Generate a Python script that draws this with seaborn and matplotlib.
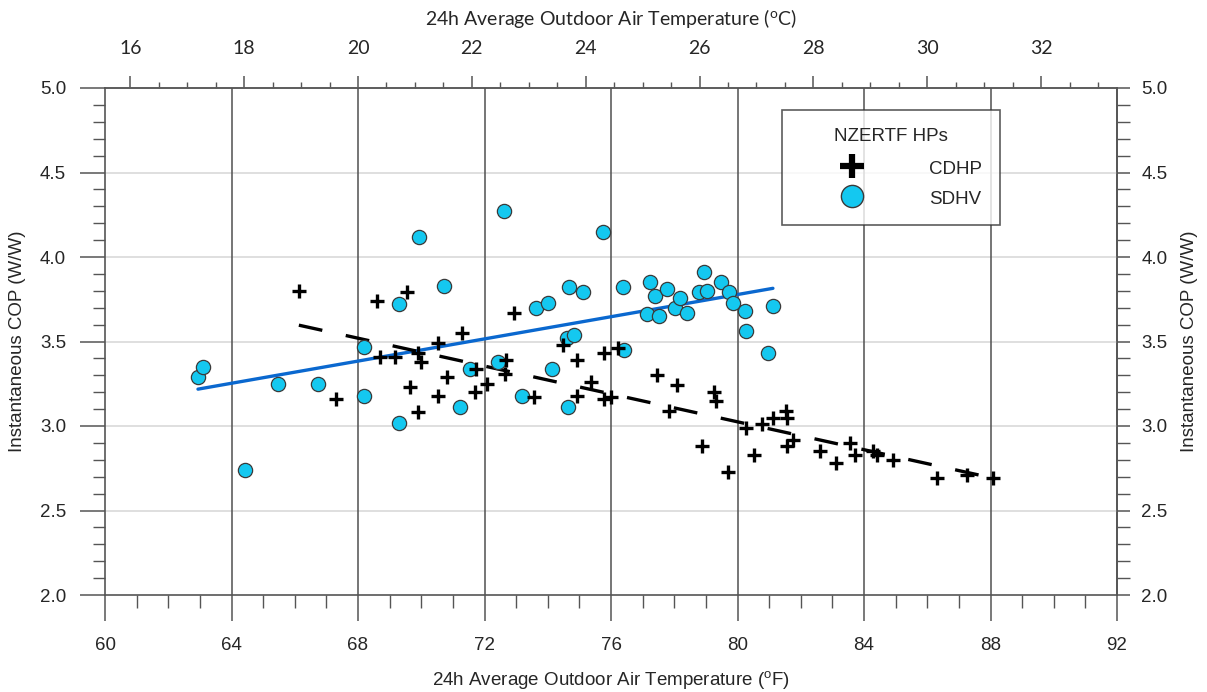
import numpy as np
import pandas as pd
import seaborn as sns
import matplotlib
matplotlib.use("Agg")
import matplotlib.pyplot as plt
from matplotlib.lines import Line2D
from matplotlib.ticker import MultipleLocator

# ---------------- data ----------------
cdhp_temp_f = [66.13, 67.30, 68.60, 69.55, 68.70, 69.17, 69.90, 69.99, 69.64, 69.90,
               70.53, 71.29, 70.81, 70.53, 71.73, 71.70, 72.08, 72.68, 72.65, 72.93,
               73.57, 74.48, 74.92, 74.92, 75.37, 75.78, 75.78, 76.00, 76.22, 77.45,
               78.09, 77.83, 79.26, 79.32, 78.88, 79.70, 80.27, 80.77, 81.12, 81.53,
               81.57, 80.52, 81.57, 81.75, 82.61, 83.11, 83.56, 83.72, 84.28, 84.41,
               84.92, 86.31, 87.26, 88.08]
cdhp_cop = [3.80, 3.16, 3.74, 3.79, 3.41, 3.41, 3.43, 3.38, 3.23, 3.08,
            3.49, 3.55, 3.29, 3.18, 3.34, 3.20, 3.25, 3.39, 3.31, 3.67,
            3.17, 3.48, 3.39, 3.18, 3.26, 3.43, 3.16, 3.17, 3.46, 3.30,
            3.24, 3.09, 3.20, 3.15, 2.88, 2.73, 2.99, 3.01, 3.05, 3.09,
            3.05, 2.83, 2.88, 2.92, 2.85, 2.78, 2.90, 2.83, 2.85, 2.83,
            2.80, 2.69, 2.71, 2.69]

sdhv_temp_f = [62.94, 63.10, 64.43, 65.47, 66.73, 68.19, 68.19, 69.30, 69.30, 69.93,
               70.72, 71.23, 71.54, 72.43, 72.62, 73.19, 73.63, 74.01, 74.13, 74.64,
               74.61, 74.83, 74.67, 75.11, 75.75, 76.38, 76.41, 77.23, 77.39, 77.77,
               77.14, 77.52, 78.02, 78.18, 78.40, 78.78, 78.94, 79.04, 79.48, 79.73,
               79.86, 80.24, 80.27, 81.12, 80.96]
sdhv_cop = [3.29, 3.35, 2.74, 3.25, 3.25, 3.47, 3.18, 3.72, 3.02, 4.12,
            3.83, 3.11, 3.34, 3.38, 4.27, 3.18, 3.70, 3.73, 3.34, 3.11,
            3.52, 3.54, 3.82, 3.79, 4.15, 3.82, 3.45, 3.85, 3.77, 3.81,
            3.66, 3.65, 3.70, 3.76, 3.67, 3.79, 3.91, 3.80, 3.85, 3.79,
            3.73, 3.68, 3.56, 3.71, 3.43]

f_ticks = [60, 64, 68, 72, 76, 80, 84, 88, 92]
c_ticks = [16, 18, 20, 22, 24, 26, 28, 30, 32]
cop_ticks = [2.0, 2.5, 3.0, 3.5, 4.0, 4.5, 5.0]
series_names = ["CDHP", "SDHV"]
legend_title = "NZERTF HPs"

df_c = pd.DataFrame({"t": cdhp_temp_f, "cop": cdhp_cop})
df_s = pd.DataFrame({"t": sdhv_temp_f, "cop": sdhv_cop})

# ---------------- style ----------------
sns.set_theme(style="white")
plt.rcParams["font.family"] = ["Liberation Sans", "DejaVu Sans"]
plt.rcParams["mathtext.default"] = "regular"

CYAN = "#14c8f0"
BLUE = "#0a68cf"
GRID_DARK = "#505050"
GRID_LIGHT = "#dcdcdc"
TICK_FS = 13.5

fig = plt.figure(figsize=(12.07, 6.92), dpi=100)
ax = fig.add_axes([105 / 1207, 1 - 595 / 692, 1012 / 1207, 507 / 692])

# regression lines
sns.regplot(data=df_s, x="t", y="cop", scatter=False, ci=None, truncate=True, ax=ax,
            line_kws=dict(color=BLUE, lw=2.4, zorder=3))
sns.regplot(data=df_c, x="t", y="cop", scatter=False, ci=None, truncate=True, ax=ax,
            line_kws=dict(color="black", lw=2.4, dashes=(7.2, 7.2), zorder=3))

# scatter points
sns.scatterplot(data=df_s, x="t", y="cop", ax=ax, marker="o", s=105, color=CYAN,
                edgecolor="#3a3a3a", linewidth=0.9, zorder=4, legend=False)
sns.scatterplot(data=df_c, x="t", y="cop", ax=ax, marker="+", s=115, color="black",
                linewidth=2.4, zorder=5, legend=False)

ax.set_xlim(60, 92)
ax.set_ylim(2.0, 5.0)
ax.set_xticks(f_ticks)
ax.set_yticks(cop_ticks)
ax.set_yticklabels([f"{v:.1f}" for v in cop_ticks])
ax.xaxis.set_minor_locator(MultipleLocator(1))
ax.yaxis.set_minor_locator(MultipleLocator(0.1))

ax.grid(False)
for v in f_ticks[1:-1]:
    ax.axvline(v, color=GRID_DARK, lw=1.1, zorder=1)
for v in cop_ticks[1:-1]:
    ax.axhline(v, color=GRID_LIGHT, lw=1.3, zorder=0.5)

for s in ax.spines.values():
    s.set_color("#555555")
    s.set_linewidth(1.2)
    s.set_visible(True)

ax.tick_params(axis="x", which="major", direction="out", length=18.5, width=1.1,
               color="#555555", labelsize=TICK_FS, pad=12, bottom=True)
ax.tick_params(axis="x", which="minor", direction="out", length=9, width=1.0,
               color="#555555", bottom=True)
ax.tick_params(axis="y", which="major", direction="out", length=18, width=1.1,
               color="#555555", labelsize=TICK_FS, pad=10, left=True)
ax.tick_params(axis="y", which="minor", direction="out", length=9, width=1.0,
               color="#555555", left=True)

ax.set_xlabel("24h Average Outdoor Air Temperature ($^{o}$F)", fontsize=TICK_FS, labelpad=10.5)
ax.set_ylabel("Instantaneous COP (W/W)", fontsize=TICK_FS, labelpad=10)

# right axis
secy = ax.secondary_yaxis("right")
secy.set_yticks(cop_ticks)
secy.set_yticklabels([f"{v:.1f}" for v in cop_ticks])
secy.yaxis.set_minor_locator(MultipleLocator(0.1))
secy.tick_params(axis="y", which="major", direction="out", length=9.5, width=1.1,
                 color="#555555", labelsize=TICK_FS, pad=8)
secy.tick_params(axis="y", which="minor", direction="out", length=9.5, width=1.0,
                 color="#555555")
secy.set_ylabel("Instantaneous COP (W/W)", fontsize=TICK_FS, labelpad=10)
secy.spines["right"].set_color("#555555")

# top axis in Celsius
secx = ax.secondary_xaxis("top", functions=(lambda f: (f - 32) * 5 / 9,
                                            lambda c: c * 9 / 5 + 32))
secx.set_xticks(c_ticks)
secx.xaxis.set_minor_locator(MultipleLocator(0.5))
secx.tick_params(axis="x", which="major", direction="out", length=9, width=1.1,
                 color="#555555", labelsize=TICK_FS + 0.5, pad=13)
secx.tick_params(axis="x", which="minor", direction="out", length=4, width=1.0,
                 color="#555555")
for lab in secx.get_xticklabels():
    lab.set_family(["Lato", "DejaVu Sans"])
secx.set_xlabel("24h Average Outdoor Air Temperature ($^{o}$C)", fontsize=TICK_FS + 0.5,
                labelpad=11, family=["Lato", "DejaVu Sans"])
secx.spines["top"].set_color("#888888")

# legend
handles = [
    Line2D([], [], linestyle="none", marker="+", markersize=17, markeredgewidth=4.5,
           color="black"),
    Line2D([], [], linestyle="none", marker="o", markersize=16, markerfacecolor=CYAN,
           markeredgecolor="#3a3a3a", markeredgewidth=1.0),
]
leg = ax.legend(handles, series_names, title=legend_title, loc="upper left",
                bbox_to_anchor=((782 - 105) / 1012, 1 - (110 - 88) / 507),
                fontsize=TICK_FS, title_fontsize=TICK_FS, frameon=True, fancybox=False,
                borderpad=0.95, handlelength=5.6, handleheight=1.2, handletextpad=1.3,
                labelspacing=0.5, borderaxespad=0)
leg._legend_box.sep = 0.5 * TICK_FS + 3.0
leg.get_frame().set_edgecolor("#333333")
leg.get_frame().set_linewidth(1.2)
leg.set_zorder(10)

fig.savefig("out.png", dpi=100)
